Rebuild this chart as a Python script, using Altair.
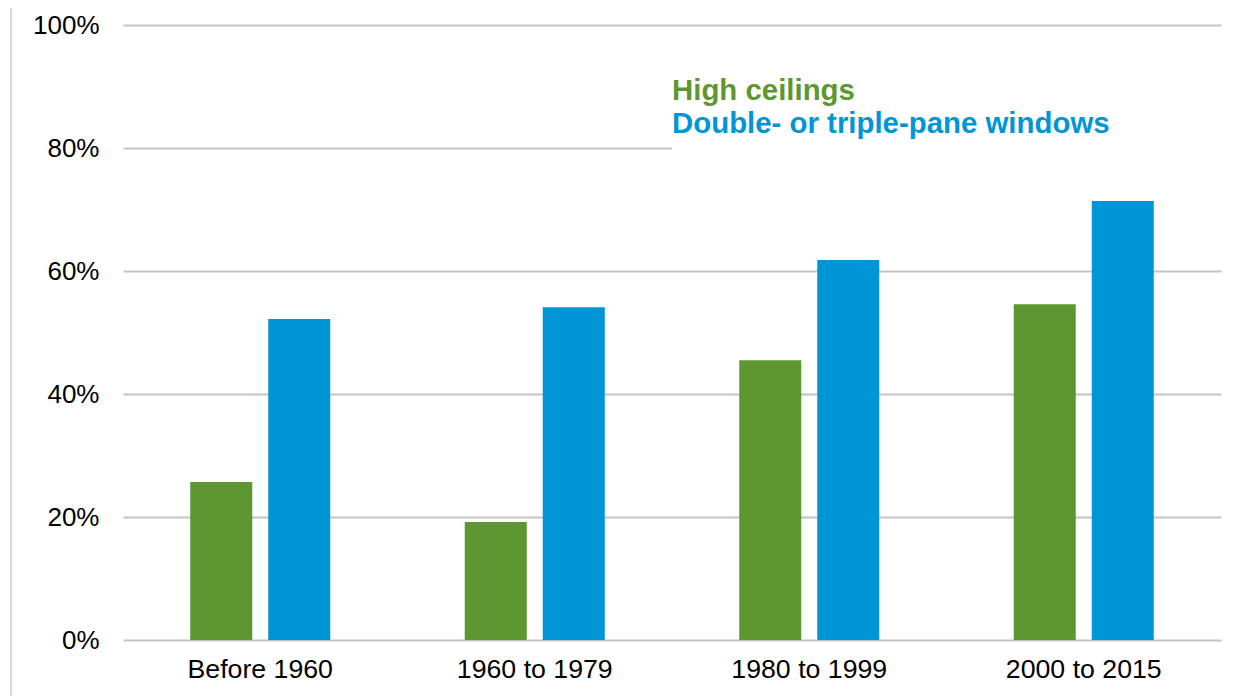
import altair as alt
import pandas as pd

periods = ["Before 1960", "1960 to 1979", "1980 to 1999", "2000 to 2015"]
series = ["High ceilings", "Double- or triple-pane windows"]
high_ceilings = [0.257, 0.192, 0.455, 0.546]
multi_pane = [0.522, 0.541, 0.618, 0.714]
y_ticks = [0, 0.2, 0.4, 0.6, 0.8, 1.0]
colors = ["#5E9732", "#0096D6"]

rows = []
for p, a, b in zip(periods, high_ceilings, multi_pane):
    rows.append({"period": p, "series": series[0], "value": a})
    rows.append({"period": p, "series": series[1], "value": b})
df = pd.DataFrame(rows)

W, H = 1098, 615
FONT = "Liberation Sans"

bars = alt.Chart(df).mark_bar().encode(
    x=alt.X("period:N", sort=periods,
            scale=alt.Scale(paddingInner=0, paddingOuter=0),
            axis=alt.Axis(title=None, labelAngle=0, domain=False, ticks=False,
                          labelFontSize=26.7, labelPadding=16, labelColor="#000000",
                          labelFont=FONT)),
    xOffset=alt.XOffset("series:N", sort=series,
                        scale=alt.Scale(paddingInner=0.205, paddingOuter=0.862)),
    y=alt.Y("value:Q", scale=alt.Scale(domain=[0, 1], nice=False),
            axis=alt.Axis(title=None, format=".0%", values=y_ticks, grid=True,
                          gridColor="#C4C4C4", gridWidth=2, domain=False, ticks=False,
                          labelFontSize=26, labelPadding=24, labelColor="#000000",
                          labelFont=FONT)),
    color=alt.Color("series:N", scale=alt.Scale(domain=series, range=colors), legend=None),
)

leg_df = pd.DataFrame({"series": series})

legend_bg = alt.Chart(leg_df).mark_rect(color="white").encode(
    x=alt.value(549), x2=alt.value(W + 4), y=alt.value(40), y2=alt.value(128)
)

leg1 = alt.Chart(pd.DataFrame({"series": [series[0]]})).mark_text(
    align="left", baseline="alphabetic", fontSize=29.4, fontWeight="bold", font=FONT,
    color=colors[0]
).encode(x=alt.value(549), y=alt.value(75), text="series:N")

leg2 = alt.Chart(pd.DataFrame({"series": [series[1]]})).mark_text(
    align="left", baseline="alphabetic", fontSize=29.4, fontWeight="bold", font=FONT,
    color=colors[1]
).encode(x=alt.value(549), y=alt.value(108), text="series:N")

border = alt.Chart(leg_df).mark_rule(color="#D9D9D9", strokeWidth=2).encode(
    x=alt.value(-112), y=alt.value(-30), y2=alt.value(H + 60)
)

chart = alt.layer(bars, legend_bg, leg1, leg2, border).properties(
    width=W, height=H,
    autosize=alt.AutoSizeParams(type="none"),
    padding={"left": 115, "top": 17, "right": 20, "bottom": 60},
    background="white",
).configure_view(stroke=None)

chart.save("out.html", embed_options={"renderer": "svg", "actions": False})
